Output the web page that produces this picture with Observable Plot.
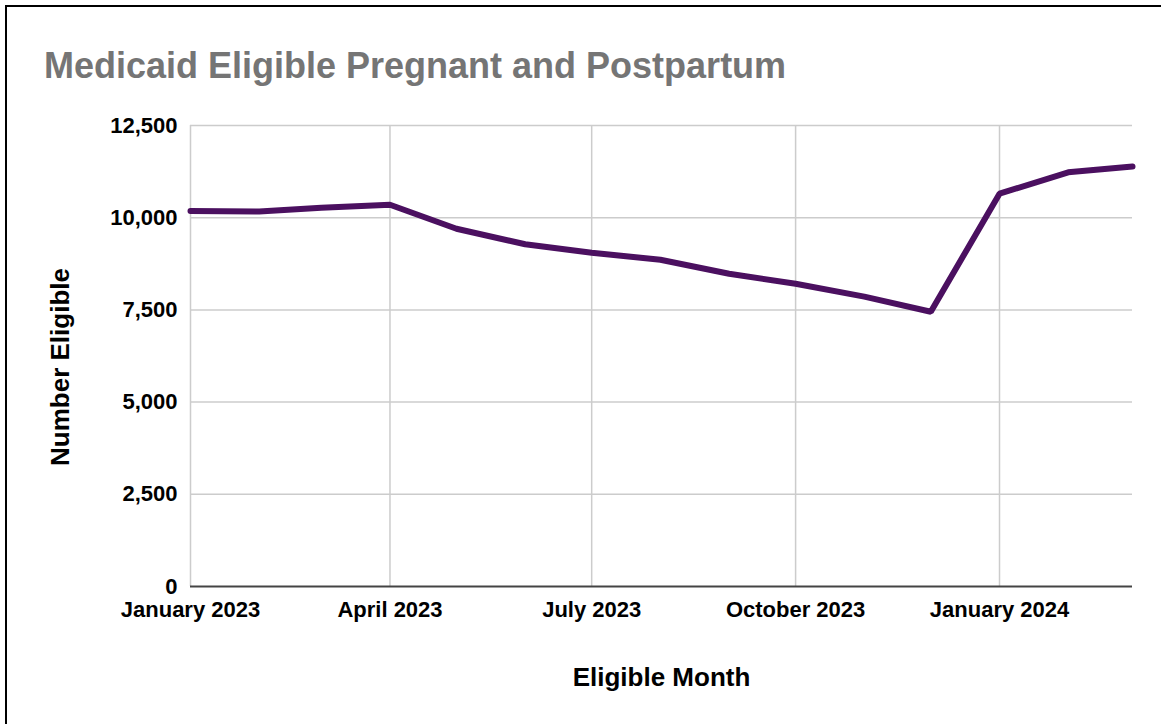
<!DOCTYPE html>
<html>
<head>
<meta charset="utf-8">
<script src="https://cdn.jsdelivr.net/npm/d3@7"></script>
<script src="https://cdn.jsdelivr.net/npm/@observablehq/plot@0.6"></script>
<style>
  html, body { margin: 0; padding: 0; background: #fff; overflow: hidden; width: 1161px; height: 724px; }
  body { position: relative; font-family: "Liberation Sans", Arial, sans-serif; }
  #frame { position: absolute; left: 5px; top: 5px; width: 1300px; height: 900px; border: 2px solid #000; box-sizing: border-box; }
  #title { position: absolute; left: 44px; top: 48px; font-size: 36px; line-height: 36px; font-weight: bold; color: #757575; white-space: nowrap; }
  #chart { position: absolute; left: 0; top: 100px; }
</style>
</head>
<body>
<div id="frame"></div>
<div id="title">Medicaid Eligible Pregnant and Postpartum</div>
<div id="chart"></div>
<script>
// Data
const months = ["2023-01", "2023-02", "2023-03", "2023-04", "2023-05", "2023-06", "2023-07", "2023-08",
                "2023-09", "2023-10", "2023-11", "2023-12", "2024-01", "2024-02", "2024-03"];
const eligible = [10180, 10170, 10270, 10350, 9700, 9280, 9050, 8860, 8480, 8210, 7860, 7450, 10650, 11230, 11390];
const xTicks = ["2023-01", "2023-04", "2023-07", "2023-10", "2024-01"];
const yTicks = [0, 2500, 5000, 7500, 10000, 12500];
const xLabel = "Eligible Month";
const yLabel = "Number Eligible";

const parse = d3.utcParse("%Y-%m");
const data = months.map((m, i) => ({date: parse(m), value: eligible[i]}));
const xTickDates = xTicks.map(parse);

const font = "\"Liberation Sans\", Arial, sans-serif";

const chart = Plot.plot({
  width: 1161,
  height: 624,
  marginTop: 25,
  marginBottom: 138,
  marginLeft: 190,
  marginRight: 29,
  style: {fontFamily: font, background: "transparent", overflow: "visible"},
  x: {type: "utc", domain: [parse(months[0]), parse(months[months.length - 1])]},
  y: {domain: [0, 12500]},
  marks: [
    Plot.gridY(yTicks.filter(d => d > 0), {stroke: "#cccccc", strokeOpacity: 1, strokeWidth: 1.5}),
    Plot.gridX(xTickDates, {stroke: "#cccccc", strokeOpacity: 1, strokeWidth: 1.5}),
    Plot.axisY(yTicks, {tickSize: 0, tickPadding: 13, fontSize: 22, fontWeight: "bold", fill: "#000", label: null,
      tickFormat: d => d.toLocaleString("en-US")}),
    Plot.axisX(xTickDates, {tickSize: 0, tickPadding: 15, fontSize: 22, fontWeight: "bold", fill: "#000", label: null,
      tickFormat: d3.utcFormat("%B %Y")}),
    Plot.ruleY([0], {stroke: "#444444", strokeWidth: 2}),
    Plot.lineY(data, {x: "date", y: "value", stroke: "#4b1060", strokeWidth: 6, strokeLinejoin: "miter", curve: "linear"}),
    Plot.text([yLabel], {frameAnchor: "left", textAnchor: "middle", lineAnchor: "middle", rotate: -90, dx: -130, dy: 11, fontSize: 26, fontWeight: "bold", fill: "#000"}),
    Plot.text([xLabel], {frameAnchor: "bottom", lineAnchor: "middle", dy: 91, fontSize: 26, fontWeight: "bold", fill: "#000"})
  ]
});
document.getElementById("chart").appendChild(chart);
</script>
</body>
</html>
